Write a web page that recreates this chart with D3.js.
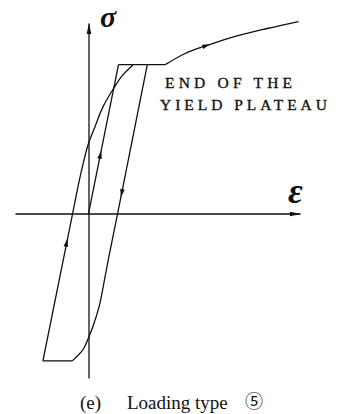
<!DOCTYPE html>
<html>
<head>
<meta charset="utf-8">
<script src="https://cdn.jsdelivr.net/npm/d3@7"></script>
<style>
  html, body { margin: 0; padding: 0; background: #fff; }
  svg { display: block; }
</style>
</head>
<body>
<svg id="chart" width="341" height="414"></svg>
<script>
// Strain in multiples of the yield strain, stress in multiples of the yield stress.
const initialLoading = [[0, 0], [1, 1]];
const yieldPlateau = [[1, 1], [2.56, 1]];
const unloading = [[1.96, 1], [0.97, 0], [0.67, -0.30], [0.52, -0.46], [0.36, -0.62],
                   [0.17, -0.745], [0, -0.835], [-0.22, -0.925], [-0.54, -0.99]];
const reversePlateau = [[-0.54, -0.99], [-1.52, -0.99]];
const reloading = [[-1.52, -0.99], [-0.53, 0], [-0.22, 0.30], [0, 0.47], [0.22, 0.585],
                   [0.49, 0.72], [0.82, 0.835], [1.16, 0.935], [1.49, 1]];
const hardening = [[2.56, 1], [3.17, 1.07], [4.06, 1.137], [4.95, 1.193], [5.95, 1.243], [7.0, 1.29]];

// Loading-direction arrows: which branch, and roughly where on it
const arrowMarks = [
  { branch: "initialLoading", at: [0.42, 0.42] },
  { branch: "unloading", at: [1.08, 0.11] },
  { branch: "reloading", at: [-0.70, -0.17] },
  { branch: "hardening", at: [4.06, 1.137] }
];

const axisLabels = { stress: "σ", strain: "ε" };
const annotation = ["END OF THE", "YIELD PLATEAU"];
const caption = { tag: "(e)", text: "Loading type", mark: "⑤" };

const svg = d3.select("#chart");
const ink = "#111";

const x = d3.scaleLinear().domain([-2.45, 7.05]).range([15, 300]);
const y = d3.scaleLinear().domain([-1.105, 1.28]).range([378, 23]);

// arrowhead for the axes
svg.append("defs").append("marker")
  .attr("id", "axisHead")
  .attr("markerUnits", "userSpaceOnUse")
  .attr("viewBox", "0 -3 11 6")
  .attr("refX", 10.5).attr("refY", 0)
  .attr("markerWidth", 11).attr("markerHeight", 6)
  .attr("orient", "auto")
  .append("path")
  .attr("d", "M0,-2.3L11,0L0,2.3Z")
  .attr("fill", ink);

// axes without ticks, crossing at the origin
const xAxis = svg.append("g")
  .attr("transform", `translate(0,${y(0)})`)
  .call(d3.axisBottom(x).tickValues([]).tickSizeOuter(0));
const yAxis = svg.append("g")
  .attr("transform", `translate(${x(0)},0)`)
  .call(d3.axisLeft(y).tickValues([]).tickSizeOuter(0));
[xAxis, yAxis].forEach(g => g.select(".domain")
  .attr("stroke", ink).attr("stroke-width", 1.3)
  .attr("marker-end", "url(#axisHead)"));

const straight = d3.line().x(d => x(d[0])).y(d => y(d[1]));
const smoothX = d3.line().x(d => x(d[0])).y(d => y(d[1])).curve(d3.curveMonotoneX);
const smoothY = d3.line().x(d => x(d[0])).y(d => y(d[1])).curve(d3.curveMonotoneY);

const branches = {
  initialLoading: straight(initialLoading),
  yieldPlateau: straight(yieldPlateau),
  unloading: smoothY(unloading),
  reversePlateau: straight(reversePlateau),
  reloading: smoothY(reloading),
  hardening: smoothX(hardening)
};

const paths = {};
Object.entries(branches).forEach(([name, d]) => {
  paths[name] = svg.append("path")
    .attr("d", d)
    .attr("fill", "none")
    .attr("stroke", ink)
    .attr("stroke-width", 1.3)
    .attr("stroke-linejoin", "round")
    .node();
});

// place each arrow on its branch, oriented along the drawn curve
arrowMarks.forEach(m => {
  const node = paths[m.branch];
  const total = node.getTotalLength();
  const tx = x(m.at[0]), ty = y(m.at[1]);
  let best = 0, bestD = Infinity;
  for (let s = 0; s <= total; s += 0.5) {
    const p = node.getPointAtLength(s);
    const dd = (p.x - tx) ** 2 + (p.y - ty) ** 2;
    if (dd < bestD) { bestD = dd; best = s; }
  }
  const p0 = node.getPointAtLength(Math.max(0, best - 2));
  const p1 = node.getPointAtLength(Math.min(total, best + 2));
  const tip = node.getPointAtLength(best);
  const ang = Math.atan2(p1.y - p0.y, p1.x - p0.x) * 180 / Math.PI;
  svg.append("path")
    .attr("d", "M0,0L-8,-2.3L-8,2.3Z")
    .attr("fill", ink)
    .attr("transform", `translate(${tip.x},${tip.y}) rotate(${ang})`);
});

// axis symbols
svg.append("text")
  .attr("x", 100).attr("y", 27)
  .attr("font-family", "Liberation Serif, serif")
  .attr("font-style", "italic")
  .attr("font-weight", "bold")
  .attr("font-size", 30)
  .attr("fill", ink)
  .text(axisLabels.stress);
svg.append("text")
  .attr("x", 288).attr("y", 203)
  .attr("font-family", "Liberation Serif, serif")
  .attr("font-style", "italic")
  .attr("font-weight", "bold")
  .attr("font-size", 36)
  .attr("fill", ink)
  .text(axisLabels.strain);

// note beside the end of the plateau
const notePos = [[165, 87.5, 127], [160, 110, 167]];
annotation.forEach((line, i) => {
  svg.append("text")
    .attr("x", notePos[i][0]).attr("y", notePos[i][1])
    .attr("textLength", notePos[i][2])
    .attr("lengthAdjust", "spacing")
    .attr("font-family", "Liberation Serif, serif")
    .attr("font-size", 15.5)
    .attr("fill", ink)
    .attr("stroke", ink)
    .attr("stroke-width", 0.35)
    .text(line);
});

// caption
const cap = svg.append("g")
  .attr("font-family", "Liberation Serif, serif")
  .attr("font-size", 19)
  .attr("fill", ink);
cap.append("text").attr("x", 80).attr("y", 409).text(caption.tag);
cap.append("text").attr("x", 127).attr("y", 409).text(caption.text);
cap.append("text").attr("x", 245).attr("y", 408)
  .attr("font-family", "Noto Sans CJK JP, DejaVu Sans, sans-serif")
  .attr("font-size", 18)
  .text(caption.mark);
</script>
</body>
</html>
